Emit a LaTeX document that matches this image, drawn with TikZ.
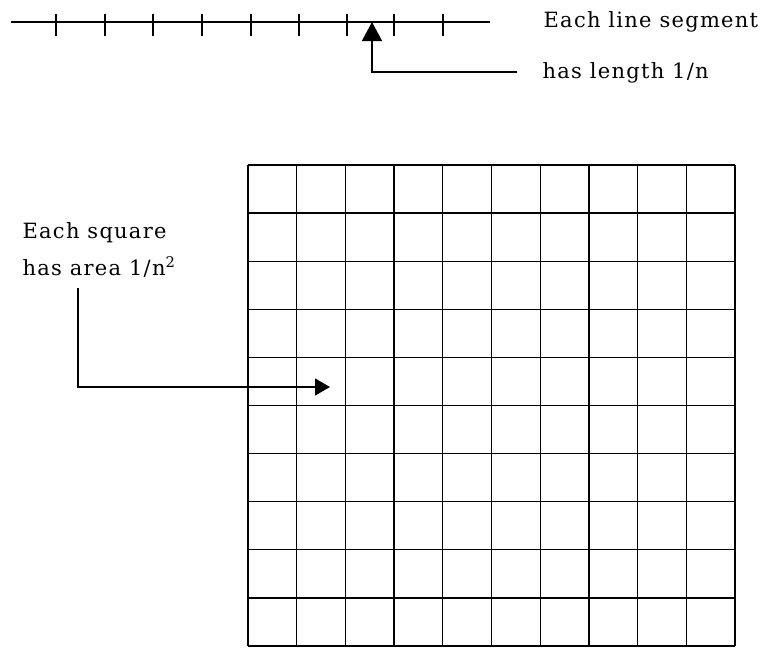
\documentclass[tikz,border=0pt]{standalone}
\usepackage{fontspec}
\usetikzlibrary{arrows.meta}
\newfontfamily\labfont{DejaVu Serif}[LetterSpace=6]
\begin{document}
\begin{tikzpicture}[x=1pt,y=-1pt,line width=1.3pt,
  lab/.style={anchor=base west,inner sep=0pt,font=\labfont\fontsize{21}{25}\selectfont},
  tipbig/.style={-{Triangle[width=20pt,length=19pt]}},
  tipsmall/.style={-{Triangle[width=17pt,length=15pt]}}]
\useasboundingbox (0,0) rectangle (763,648);
% grid
\foreach \i in {0,...,10} {
  \draw (248+48.7*\i,165) -- (248+48.7*\i,646);
  \draw (248,165+48.1*\i) -- (735,165+48.1*\i);
}
% top segmented line
\coordinate (lineL) at (11,22);
\coordinate (lineR) at (490,22);
\draw (lineL) -- (lineR);
\foreach \x in {56,105,153,202,251,299,347,394,443} {
  \draw (\x,14) -- (\x,36);
}
% labels
\node[lab] (seg) at (543,27) {Each line segment};
\node[lab] (len) at (542,78) {has length 1/n};
\node[lab] (sq) at (22,238) {Each square};
\node[lab] (area) at (22,275) {has area 1/n\textsuperscript{2}};
% arrows
\coordinate (lenhook) at (517,72);
\coordinate (tipA) at (372,22);
\draw[tipbig] (lenhook) -- (tipA |- lenhook) -- (tipA);
\coordinate (areastart) at (78,288);
\coordinate (tipB) at (330,387);
\draw[tipsmall] (areastart) -- (areastart |- tipB) -- (tipB);
\end{tikzpicture}
\end{document}
